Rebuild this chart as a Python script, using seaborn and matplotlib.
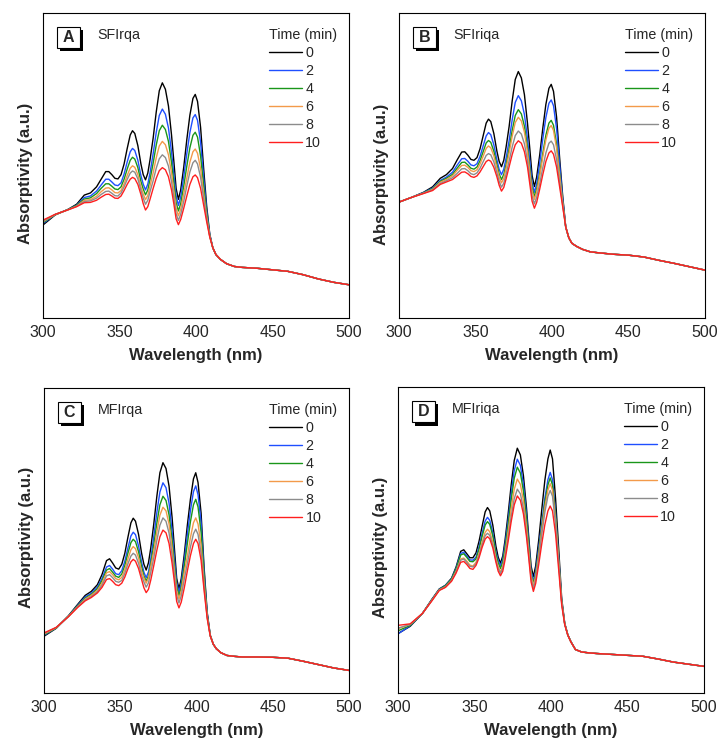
import numpy as np
import pandas as pd
import seaborn as sns
import matplotlib.pyplot as plt
from matplotlib.patches import Rectangle

# wavelength grid (nm) the curves were read at; all curves overlap past 413 nm
wave_core = [300, 308, 316, 322, 327, 331, 335, 338, 341, 343, 345, 347, 349, 351, 353,
             355, 357, 358.5, 360, 362, 364, 365.5, 367, 368.5, 370, 372, 374, 376, 378,
             380, 382, 384, 385.5, 387, 388.5, 390, 392, 394, 396, 398, 399.5, 401, 403,
             405, 407, 409, 411, 413]
wave_tail = [416, 420, 425, 430, 440, 450, 460, 470, 480, 490, 500]

times = ['0', '2', '4', '6', '8', '10']
colors = ['#000000', '#1f4fff', '#1a961a', '#f39a4a', '#8c8c8c', '#ff1f1f']

# panel A - SFIrqa
a_0 = [30.5, 33.8, 35.5, 37.3, 40.3, 41.0, 43.0, 45.5, 48.0, 48.0, 47.0, 45.8, 45.6, 47.0, 50.5, 55.5, 60.0, 61.4, 60.5, 56.5, 50.5, 47.0, 45.3, 47.5, 52.0, 59.0, 67.5, 74.5, 77.1, 75.0, 69.5, 60.0, 51.5, 42.5, 38.9, 42.0, 49.5, 58.5, 66.5, 72.0, 73.3, 71.0, 62.5, 49.0, 36.5, 27.5, 23.0, 20.8]
a_2 = [31.0, 33.9, 35.5, 37.0, 39.5, 40.0, 41.6, 43.6, 45.5, 45.5, 44.6, 43.6, 43.4, 44.3, 47.2, 51.1, 54.5, 55.6, 54.9, 51.7, 46.7, 43.9, 42.0, 43.9, 47.7, 53.9, 60.8, 66.4, 68.5, 66.8, 62.3, 54.4, 47.2, 40.1, 36.9, 39.7, 46.3, 53.9, 60.8, 65.6, 66.7, 64.8, 57.5, 46.0, 35.3, 27.3, 23.0, 20.8]
a_4 = [31.3, 33.9, 35.5, 36.9, 39.0, 39.4, 40.8, 42.5, 44.0, 44.0, 43.2, 42.3, 42.1, 43.0, 45.5, 48.8, 51.7, 52.7, 52.1, 49.3, 44.8, 42.3, 40.4, 42.0, 45.5, 50.8, 56.7, 61.4, 63.2, 61.8, 57.9, 51.0, 44.5, 37.9, 35.1, 37.5, 43.3, 49.8, 55.8, 59.9, 60.9, 59.3, 53.1, 43.4, 34.2, 27.0, 23.0, 20.8]
a_6 = [31.6, 33.9, 35.4, 36.7, 38.6, 38.8, 39.9, 41.4, 42.6, 42.7, 42.0, 41.1, 41.0, 41.8, 44.0, 46.7, 49.1, 49.9, 49.4, 47.0, 43.0, 40.7, 38.8, 40.2, 43.4, 47.6, 52.5, 56.4, 57.9, 56.8, 53.5, 47.6, 41.8, 36.0, 33.5, 35.7, 40.7, 45.9, 51.1, 54.5, 55.4, 54.0, 48.9, 40.8, 33.1, 26.8, 23.0, 20.8]
a_8 = [31.8, 34.0, 35.4, 36.6, 38.2, 38.4, 39.3, 40.5, 41.5, 41.6, 40.9, 40.1, 40.0, 41.0, 43.0, 45.4, 47.5, 48.2, 47.8, 45.6, 41.9, 39.3, 37.3, 38.6, 41.5, 45.0, 49.1, 52.2, 53.5, 52.6, 49.8, 44.7, 39.6, 34.2, 32.0, 34.0, 38.3, 43.3, 47.9, 50.9, 51.7, 50.5, 46.1, 39.2, 32.4, 26.7, 23.0, 20.8]
a_10 = [32.1, 34.0, 35.4, 36.5, 37.8, 37.9, 38.6, 39.6, 40.5, 40.6, 40.0, 39.3, 39.2, 40.0, 41.8, 43.8, 45.5, 46.1, 45.7, 43.8, 40.5, 37.5, 35.4, 36.5, 39.0, 42.5, 45.8, 48.3, 49.3, 48.6, 46.3, 42.0, 37.5, 32.5, 30.6, 32.3, 36.0, 40.0, 43.8, 46.3, 46.9, 46.0, 42.5, 37.0, 31.5, 26.5, 23.0, 20.8]
a_tail = [19.2, 17.8, 16.9, 16.6, 16.3, 15.8, 15.3, 14.2, 12.8, 11.7, 10.9]

# panel B - SFIriqa
b_0 = [38.0, 39.5, 41.2, 43.0, 45.8, 47.0, 49.0, 51.8, 54.4, 54.5, 53.4, 52.0, 51.7, 52.6, 55.5, 59.7, 63.9, 65.2, 64.4, 60.5, 54.7, 51.3, 49.6, 51.7, 56.0, 62.8, 71.2, 78.2, 80.8, 78.7, 73.2, 63.8, 55.5, 46.7, 43.1, 46.2, 53.5, 62.2, 70.0, 75.3, 76.6, 74.3, 65.9, 52.5, 40.0, 29.8, 26.3, 24.5]
b_2 = [38.0, 39.5, 41.1, 42.6, 45.1, 46.2, 47.8, 50.1, 52.2, 52.3, 51.4, 50.2, 49.9, 50.6, 53.0, 56.4, 59.7, 60.8, 60.1, 56.8, 51.9, 48.7, 47.0, 48.8, 52.4, 58.2, 65.0, 70.7, 72.9, 71.2, 66.7, 58.8, 51.5, 44.4, 41.2, 44.0, 50.9, 58.7, 65.7, 70.4, 71.5, 69.6, 62.1, 50.3, 39.2, 29.8, 26.3, 24.5]
b_4 = [38.0, 39.5, 41.0, 42.4, 44.8, 45.8, 47.1, 49.1, 51.0, 51.1, 50.2, 49.1, 48.8, 49.5, 51.6, 54.5, 57.4, 58.2, 57.6, 54.7, 50.3, 47.2, 45.4, 47.1, 50.3, 55.5, 61.5, 66.4, 68.3, 66.9, 62.9, 55.9, 49.2, 42.8, 39.8, 42.4, 47.5, 54.0, 59.9, 63.9, 64.8, 63.2, 57.0, 47.4, 38.1, 29.8, 26.3, 24.5]
b_6 = [38.0, 39.5, 40.9, 42.2, 44.5, 45.4, 46.6, 48.4, 50.0, 50.1, 49.4, 48.3, 48.0, 48.6, 50.5, 53.0, 55.6, 56.4, 55.8, 53.2, 49.2, 46.2, 44.3, 45.8, 49.1, 54.1, 59.6, 64.1, 65.8, 64.6, 60.9, 54.4, 47.9, 41.7, 38.9, 41.3, 46.6, 52.8, 58.4, 62.2, 63.1, 61.5, 55.7, 46.6, 37.8, 29.8, 26.3, 24.5]
b_8 = [38.0, 39.5, 40.9, 42.0, 44.1, 45.0, 46.0, 47.4, 48.9, 49.0, 48.3, 47.3, 47.0, 47.6, 49.1, 51.2, 53.3, 53.9, 53.5, 51.2, 47.6, 44.8, 42.9, 44.2, 47.1, 51.5, 56.1, 59.8, 61.3, 60.3, 57.1, 51.5, 45.6, 40.0, 37.4, 39.6, 44.0, 49.3, 54.1, 57.3, 58.0, 56.8, 52.0, 44.4, 37.0, 29.8, 26.3, 24.5]
b_10 = [38.0, 39.5, 40.8, 41.8, 43.8, 44.6, 45.4, 46.6, 47.8, 47.9, 47.3, 46.4, 46.1, 46.6, 47.9, 49.6, 51.3, 51.8, 51.4, 49.4, 46.3, 43.5, 41.6, 42.8, 45.6, 49.6, 53.6, 56.8, 58.1, 57.3, 54.5, 49.5, 44.0, 38.3, 36.0, 37.9, 42.3, 47.0, 51.3, 54.1, 54.8, 53.7, 49.5, 43.0, 36.5, 29.8, 26.3, 24.5]
b_tail = [23.5, 22.5, 21.7, 21.4, 20.9, 20.6, 20.0, 18.9, 17.9, 16.8, 15.7]

# panel C - MFIrqa
c_0 = [18.6, 21.2, 25.3, 29.0, 32.0, 33.3, 35.5, 38.8, 43.4, 44.0, 42.6, 41.0, 40.6, 42.2, 45.8, 51.0, 55.8, 57.3, 56.3, 52.0, 45.8, 42.2, 40.3, 42.7, 47.5, 55.5, 64.5, 72.2, 75.5, 73.6, 67.8, 57.5, 47.5, 37.6, 34.1, 37.5, 45.5, 55.0, 63.5, 70.2, 72.2, 69.0, 59.0, 41.0, 26.5, 19.0, 16.0, 14.5]
c_2 = [18.9, 21.3, 25.2, 28.7, 31.5, 32.7, 34.7, 37.5, 41.3, 41.8, 40.6, 39.1, 38.8, 40.1, 43.2, 47.5, 51.5, 52.7, 51.9, 48.2, 42.9, 39.6, 37.8, 39.7, 43.9, 51.4, 59.2, 65.9, 68.9, 67.3, 62.2, 53.0, 44.2, 36.2, 33.0, 36.1, 43.5, 52.0, 59.8, 66.0, 67.9, 65.0, 55.9, 39.5, 26.1, 18.9, 16.0, 14.5]
c_4 = [19.1, 21.3, 25.2, 28.5, 31.1, 32.3, 34.2, 36.8, 40.3, 40.8, 39.6, 38.3, 37.9, 39.0, 41.8, 45.8, 49.3, 50.4, 49.6, 46.3, 41.4, 38.4, 36.7, 38.4, 42.4, 48.7, 55.7, 61.7, 64.5, 63.1, 58.4, 50.0, 42.0, 34.9, 31.9, 34.8, 41.7, 49.0, 56.1, 61.7, 63.5, 61.0, 52.8, 38.0, 25.7, 18.9, 16.0, 14.5]
c_6 = [19.3, 21.4, 25.1, 28.3, 30.8, 32.0, 33.7, 36.0, 39.4, 39.8, 38.8, 37.5, 37.1, 37.9, 40.4, 43.9, 47.0, 48.0, 47.3, 44.3, 39.9, 37.7, 36.0, 37.7, 41.4, 46.5, 52.8, 58.3, 60.9, 59.7, 55.4, 47.6, 40.2, 33.6, 30.8, 33.4, 39.7, 44.8, 50.9, 55.8, 57.4, 55.4, 48.5, 35.9, 25.1, 18.8, 16.0, 14.5]
c_8 = [19.5, 21.5, 25.0, 28.2, 30.5, 31.6, 33.2, 35.3, 38.4, 38.8, 37.8, 36.6, 36.3, 36.9, 39.2, 42.3, 44.9, 45.8, 45.2, 42.5, 38.5, 36.4, 34.7, 36.1, 39.5, 44.3, 50.0, 55.0, 57.4, 56.3, 52.4, 45.2, 38.5, 32.0, 29.5, 31.8, 37.4, 42.3, 47.8, 52.2, 53.7, 52.0, 45.8, 34.6, 24.8, 18.7, 16.0, 14.5]
c_10 = [19.7, 21.5, 25.0, 28.0, 30.2, 31.3, 32.8, 34.6, 37.2, 37.5, 36.6, 35.5, 35.2, 36.0, 38.0, 40.7, 43.0, 43.8, 43.2, 40.8, 37.2, 34.5, 32.9, 34.0, 37.0, 41.8, 46.8, 51.2, 53.4, 52.5, 49.0, 42.5, 36.5, 30.0, 27.9, 29.8, 34.5, 40.0, 45.0, 49.0, 50.4, 49.0, 43.5, 33.5, 24.5, 18.7, 16.0, 14.5]
c_tail = [13.2, 12.3, 12.0, 11.8, 11.8, 11.7, 11.4, 10.4, 9.3, 8.2, 7.4]

# panel D - MFIriqa
d_0 = [19.4, 21.8, 26.0, 30.5, 34.0, 35.2, 37.5, 41.2, 46.3, 46.8, 45.5, 44.2, 44.2, 45.8, 49.6, 54.5, 59.2, 60.6, 59.5, 54.8, 48.0, 44.4, 42.4, 44.8, 50.0, 58.5, 68.0, 76.0, 80.0, 77.8, 71.0, 60.5, 50.8, 41.5, 38.0, 41.5, 50.0, 60.0, 69.5, 76.5, 79.4, 76.5, 63.5, 47.5, 31.0, 22.8, 19.0, 16.8]
d_2 = [19.3, 22.0, 26.0, 30.4, 33.9, 35.1, 37.3, 40.8, 45.6, 46.0, 44.8, 43.5, 43.4, 44.4, 47.8, 52.2, 56.2, 57.4, 56.4, 52.3, 46.2, 43.4, 41.5, 43.7, 48.6, 56.4, 65.2, 72.7, 76.4, 74.4, 68.1, 58.3, 49.2, 39.9, 36.6, 39.8, 47.6, 55.5, 63.7, 69.7, 72.1, 69.7, 58.9, 44.7, 30.1, 22.6, 19.0, 16.8]
d_4 = [20.3, 22.1, 26.0, 30.3, 33.8, 35.0, 37.2, 40.5, 45.1, 45.5, 44.3, 43.0, 42.9, 43.8, 47.0, 51.2, 54.9, 56.0, 55.1, 51.3, 45.5, 42.5, 40.7, 42.8, 47.3, 54.9, 63.2, 70.2, 73.8, 71.9, 66.0, 56.7, 48.1, 39.1, 35.7, 38.8, 46.2, 54.4, 62.3, 68.0, 70.3, 68.0, 57.8, 44.0, 29.9, 22.6, 19.0, 16.8]
d_6 = [21.0, 22.4, 26.0, 30.2, 33.7, 34.7, 36.8, 39.8, 43.8, 44.1, 43.1, 41.8, 41.5, 42.7, 45.6, 49.3, 52.5, 53.5, 52.7, 49.3, 44.1, 41.3, 39.6, 41.4, 45.6, 52.7, 60.2, 66.6, 69.9, 68.2, 62.9, 54.3, 46.4, 38.4, 35.1, 38.1, 45.2, 53.3, 60.8, 66.3, 68.4, 66.3, 56.6, 43.3, 29.7, 22.5, 18.9, 16.7]
d_8 = [21.2, 22.4, 26.0, 30.1, 33.6, 34.6, 36.7, 39.6, 43.4, 43.8, 42.7, 41.4, 41.2, 42.2, 44.9, 48.4, 51.4, 52.2, 51.5, 48.3, 43.4, 40.7, 39.1, 40.8, 44.8, 50.8, 57.7, 63.5, 66.6, 65.1, 60.3, 52.3, 45.0, 37.5, 34.3, 37.1, 43.8, 51.9, 59.1, 64.3, 66.2, 64.3, 55.2, 42.5, 29.4, 22.4, 18.9, 16.7]
d_10 = [22.1, 22.6, 26.0, 30.0, 33.5, 34.5, 36.5, 39.2, 42.7, 43.0, 42.0, 40.7, 40.4, 41.7, 44.2, 47.6, 50.3, 51.1, 50.4, 47.4, 42.8, 39.8, 38.3, 39.8, 43.5, 49.5, 56.0, 61.5, 64.4, 63.0, 58.5, 51.0, 44.0, 36.3, 33.2, 35.8, 42.0, 48.8, 55.0, 59.5, 61.1, 59.5, 52.0, 40.5, 28.8, 22.3, 18.9, 16.7]
d_tail = [14.2, 13.4, 13.1, 12.9, 12.6, 12.3, 12.0, 11.1, 10.1, 9.4, 8.7]


def panel_frame(series, tail):
    parts = []
    for t, vals in zip(times, series):
        parts.append(pd.DataFrame({'wavelength': wave_core + wave_tail,
                                   'absorptivity': list(vals) + list(tail),
                                   'time': t}))
    return pd.concat(parts, ignore_index=True)


def draw_panel(ax, df, letter, sample, ylab_y):
    sns.lineplot(data=df, x='wavelength', y='absorptivity', hue='time',
                 hue_order=times, palette=colors, linewidth=1.0, ax=ax)
    ax.set_xlim(300, 500)
    ax.set_ylim(0, 100)
    ax.set_xticks(range(300, 501, 50))
    ax.set_xticks(range(325, 500, 50), minor=True)
    ax.set_yticks([])
    ax.tick_params(axis='x', which='both', direction='in', labelsize=11.5, pad=5, top=False)
    ax.tick_params(axis='x', which='major', length=3.5, width=0.8)
    ax.tick_params(axis='x', which='minor', length=2.5, width=0.8)
    for s in ax.spines.values():
        s.set_linewidth(0.8)
        s.set_color('black')
    ax.set_xlabel('Wavelength (nm)', fontsize=12, fontweight='bold', labelpad=5.5)
    ax.set_ylabel('Absorptivity (a.u.)', fontsize=12, fontweight='bold')
    ax.yaxis.set_label_coords(-0.034, ylab_y)

    # panel letter in a box with a drop shadow
    bx, by, bw, bh = 0.046, 0.885, 0.075, 0.069
    ax.add_patch(Rectangle((bx + 0.011, by - 0.011), bw, bh, transform=ax.transAxes,
                           facecolor='black', edgecolor='none', zorder=5))
    ax.add_patch(Rectangle((bx, by), bw, bh, transform=ax.transAxes,
                           facecolor='white', edgecolor='black', linewidth=0.8, zorder=6))
    ax.text(bx + bw / 2, by + bh / 2, letter, transform=ax.transAxes, ha='center',
            va='center', fontsize=11.5, fontweight='bold', zorder=7)
    ax.text(0.176, 0.928, sample, transform=ax.transAxes, ha='left', va='center',
            fontsize=10.3)

    handles, labels = ax.get_legend_handles_labels()
    ax.legend(handles, labels, title='Time (min)', loc='upper left',
              bbox_to_anchor=(0.738, 0.95), frameon=False, fontsize=10.3,
              title_fontsize=10.3, handlelength=2.3, handletextpad=0.25,
              labelspacing=0.28, alignment='left', borderaxespad=0, borderpad=0)


sns.set_style('white')
plt.rcParams['font.family'] = ['Liberation Sans', 'DejaVu Sans']

fig = plt.figure(figsize=(7.19, 7.38), dpi=100)
panels = [
    ([0.0598, 0.5691, 0.4256, 0.4133], 'A', 'SFIrqa', [a_0, a_2, a_4, a_6, a_8, a_10], a_tail, 0.475),
    ([0.5549, 0.5691, 0.4256, 0.4133], 'B', 'SFIriqa', [b_0, b_2, b_4, b_6, b_8, b_10], b_tail, 0.472),
    ([0.0612, 0.0610, 0.4242, 0.4133], 'C', 'MFIrqa', [c_0, c_2, c_4, c_6, c_8, c_10], c_tail, 0.51),
    ([0.5535, 0.0610, 0.4256, 0.4146], 'D', 'MFIriqa', [d_0, d_2, d_4, d_6, d_8, d_10], d_tail, 0.477),
]
for pos, letter, sample, series, tail, ylab_y in panels:
    ax = fig.add_axes(pos)
    draw_panel(ax, panel_frame(series, tail), letter, sample, ylab_y)

fig.savefig('out.png', dpi=100)
